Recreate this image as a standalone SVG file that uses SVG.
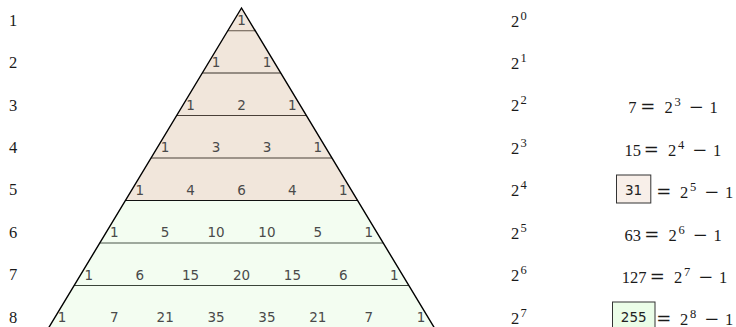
<svg xmlns="http://www.w3.org/2000/svg" width="736" height="327" viewBox="0 0 736 327">
<style>
.lab{font-family:"Liberation Serif","DejaVu Serif",serif;font-size:16.5px;fill:#1a1a1a}
.sup{font-family:"Liberation Serif","DejaVu Serif",serif;font-size:12.5px;fill:#1a1a1a}
.op{font-family:"DejaVu Serif","Liberation Serif",serif;font-size:18px;fill:#1a1a1a}
.num{font-family:"DejaVu Sans","Liberation Sans",sans-serif;font-size:13.5px;fill:#4a4a4a;text-anchor:middle}
.box{font-family:"DejaVu Sans","Liberation Sans",sans-serif;font-size:13.5px;fill:#222;text-anchor:middle}
.end{text-anchor:end}
.sep{stroke-width:1.2;fill:none}
</style>
<rect width="736" height="327" fill="#ffffff"/>
<g id="triangle">
<polygon points="241.5,8 357.6,200.5 125.4,200.5" fill="#f1e6db"/>
<polygon points="125.4,200.5 357.6,200.5 438.7,335 44.3,335" fill="#f3fdf1"/>
<line class="sep" x1="227.8" y1="30.7" x2="255.2" y2="30.7" stroke="#7a6d60"/>
<line class="sep" x1="202.3" y1="73" x2="280.7" y2="73" stroke="#3a332c"/>
<line class="sep" x1="176.7" y1="115.5" x2="306.3" y2="115.5" stroke="#4a4038"/>
<line class="sep" x1="151.05" y1="158" x2="331.95" y2="158" stroke="#4a4038"/>
<line class="sep" x1="125.4" y1="200.5" x2="357.6" y2="200.5" stroke="#111"/>
<line class="sep" x1="99.8" y1="243" x2="383.2" y2="243" stroke="#4a564a"/>
<line class="sep" x1="74.2" y1="285.5" x2="408.8" y2="285.5" stroke="#3a443a"/>
<path d="M44.3,335 L241.5,8 L438.7,335" fill="none" stroke="#000" stroke-width="1.4"/>
</g>
<g id="row1"><text class="lab" x="9" y="25.7">1</text><text class="num" x="241.5" y="25">1</text></g>
<g id="row2"><text class="lab" x="9" y="68.1">2</text><text class="num" x="216.05" y="67.4">1</text><text class="num" x="266.95" y="67.4">1</text></g>
<g id="row3"><text class="lab" x="9" y="110.6">3</text><text class="num" x="190.6" y="109.9">1</text><text class="num" x="241.5" y="109.9">2</text><text class="num" x="292.4" y="109.9">1</text></g>
<g id="row4"><text class="lab" x="9" y="153">4</text><text class="num" x="165.15" y="152.3">1</text><text class="num" x="216.05" y="152.3">3</text><text class="num" x="266.95" y="152.3">3</text><text class="num" x="317.85" y="152.3">1</text></g>
<g id="row5"><text class="lab" x="9" y="195.4">5</text><text class="num" x="139.7" y="194.7">1</text><text class="num" x="190.6" y="194.7">4</text><text class="num" x="241.5" y="194.7">6</text><text class="num" x="292.4" y="194.7">4</text><text class="num" x="343.3" y="194.7">1</text></g>
<g id="row6"><text class="lab" x="9" y="237.9">6</text><text class="num" x="114.25" y="237.2">1</text><text class="num" x="165.15" y="237.2">5</text><text class="num" x="216.05" y="237.2">10</text><text class="num" x="266.95" y="237.2">10</text><text class="num" x="317.85" y="237.2">5</text><text class="num" x="368.75" y="237.2">1</text></g>
<g id="row7"><text class="lab" x="9" y="280.3">7</text><text class="num" x="88.8" y="279.6">1</text><text class="num" x="139.7" y="279.6">6</text><text class="num" x="190.6" y="279.6">15</text><text class="num" x="241.5" y="279.6">20</text><text class="num" x="292.4" y="279.6">15</text><text class="num" x="343.3" y="279.6">6</text><text class="num" x="394.2" y="279.6">1</text></g>
<g id="row8"><text class="lab" x="9" y="322.7">8</text><text class="num" x="62" y="322">1</text><text class="num" x="114.25" y="322">7</text><text class="num" x="165.15" y="322">21</text><text class="num" x="216.05" y="322">35</text><text class="num" x="266.95" y="322">35</text><text class="num" x="317.85" y="322">21</text><text class="num" x="368.75" y="322">7</text><text class="num" x="421" y="322">1</text></g>
<g id="powers">
<text class="lab" x="511" y="26.5">2</text><text class="sup" x="520.5" y="19.5">0</text>
<text class="lab" x="511" y="68.9">2</text><text class="sup" x="520.5" y="61.9">1</text>
<text class="lab" x="511" y="111.4">2</text><text class="sup" x="520.5" y="104.4">2</text>
<text class="lab" x="511" y="153.8">2</text><text class="sup" x="520.5" y="146.8">3</text>
<text class="lab" x="511" y="196.2">2</text><text class="sup" x="520.5" y="189.2">4</text>
<text class="lab" x="511" y="238.6">2</text><text class="sup" x="520.5" y="231.6">5</text>
<text class="lab" x="511" y="281.1">2</text><text class="sup" x="520.5" y="274.1">6</text>
<text class="lab" x="511" y="323.5">2</text><text class="sup" x="520.5" y="316.5">7</text>
</g>
<g id="f3"><text class="lab end" x="636.5" y="113">7</text><text class="op" x="640.3" y="113">=</text><text class="lab" x="664.5" y="113">2</text><text class="sup" x="674.5" y="106">3</text><text class="op" x="688.8" y="113">−</text><text class="lab" x="709.5" y="113">1</text></g>
<g id="f4"><text class="lab end" x="641" y="155.5">15</text><text class="op" x="643.8" y="155.5">=</text><text class="lab" x="668" y="155.5">2</text><text class="sup" x="678" y="148.5">4</text><text class="op" x="692.3" y="155.5">−</text><text class="lab" x="713" y="155.5">1</text></g>
<g id="f5"><rect x="616.5" y="175" width="34.3" height="28" fill="#f8efe9" stroke="#333" stroke-width="1"/><text class="box" x="633.6" y="194.5">31</text><text class="op" x="656.3" y="198">=</text><text class="lab" x="680" y="198">2</text><text class="sup" x="690" y="191">5</text><text class="op" x="704.3" y="198">−</text><text class="lab" x="725" y="198">1</text></g>
<g id="f6"><text class="lab end" x="641" y="240.5">63</text><text class="op" x="644.3" y="240.5">=</text><text class="lab" x="668.5" y="240.5">2</text><text class="sup" x="678.5" y="233.5">6</text><text class="op" x="692.8" y="240.5">−</text><text class="lab" x="713.5" y="240.5">1</text></g>
<g id="f7"><text class="lab end" x="646.5" y="283">127</text><text class="op" x="649.8" y="283">=</text><text class="lab" x="674" y="283">2</text><text class="sup" x="684" y="276">7</text><text class="op" x="698.3" y="283">−</text><text class="lab" x="719" y="283">1</text></g>
<g id="f8"><rect x="612.5" y="302" width="42.5" height="28" fill="#ebfde8" stroke="#333" stroke-width="1"/><text class="box" x="633.7" y="321.5">255</text><text class="op" x="656.3" y="324.5">=</text><text class="lab" x="680" y="324.5">2</text><text class="sup" x="690" y="317.5">8</text><text class="op" x="704.3" y="324.5">−</text><text class="lab" x="725" y="324.5">1</text></g>
</svg>
